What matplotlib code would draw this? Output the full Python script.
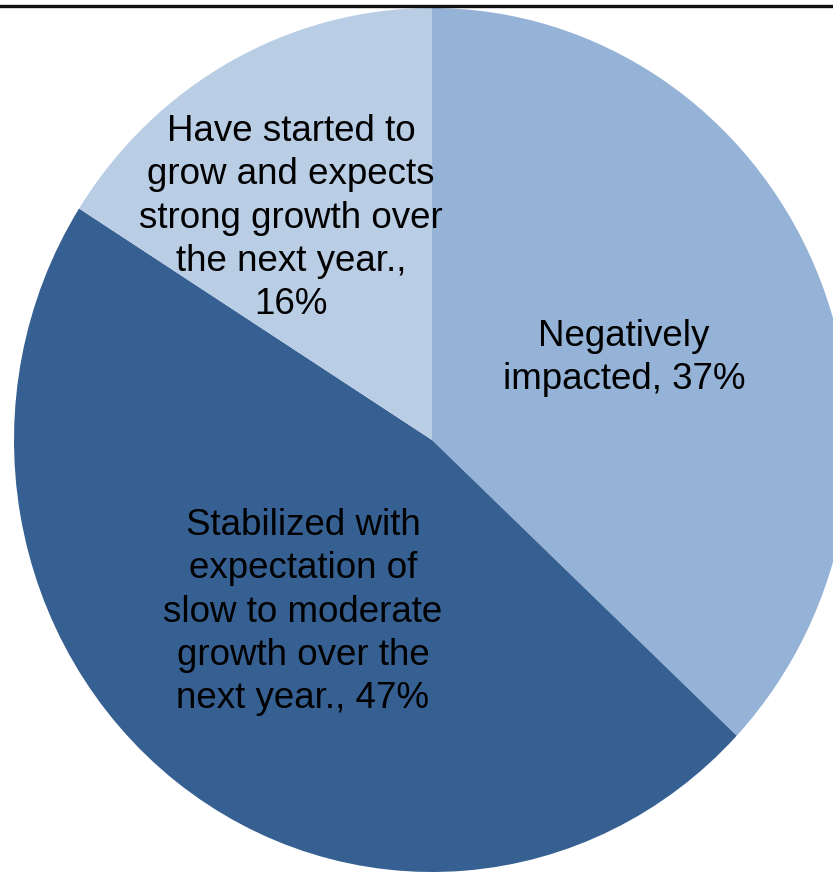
import matplotlib
matplotlib.use("Agg")
import matplotlib.pyplot as plt
from matplotlib.lines import Line2D

# data
labels = ["Negatively\nimpacted, 37%",
          "Stabilized with\nexpectation of\nslow to moderate\ngrowth over the\nnext year., 47%",
          "Have started to\ngrow and expects\nstrong growth over\nthe next year.,\n16%"]
values = [37, 47, 16]
colors = ["#95B3D7", "#366092", "#B9CDE5"]

# label centres in pixels (x, y from top)
label_px = [(624, 358), (303, 612), (291, 218)]

W, H = 833, 873
cx, cy = 432, 440      # pie centre, px
rx, ry = 418, 432      # radii, px (the chart is slightly stretched)

plt.rcParams['font.family'] = ['Liberation Sans', 'DejaVu Sans']

fig = plt.figure(figsize=(W / 100, H / 100), dpi=100)
ax = fig.add_axes([0, 0, 1, 1])
ax.pie(values, colors=colors, startangle=90, counterclock=False,
       wedgeprops=dict(edgecolor='none', linewidth=0))
ax.set_aspect('auto')
ax.set_xlim(-cx / rx, (W - cx) / rx)
ax.set_ylim(-(H - cy) / ry, cy / ry)
ax.axis('off')

for lab, (px, py) in zip(labels, label_px):
    ax.text((px - cx) / rx, (cy - py) / ry, lab, ha='center', va='center',
            fontsize=26.5, color='black', linespacing=1.3)

# black rule across the top
fig.add_artist(Line2D([0, 1], [1 - 5.5 / H, 1 - 5.5 / H], color='#111111',
                      linewidth=2.4, transform=fig.transFigure))

fig.savefig("out.png", dpi=100)
